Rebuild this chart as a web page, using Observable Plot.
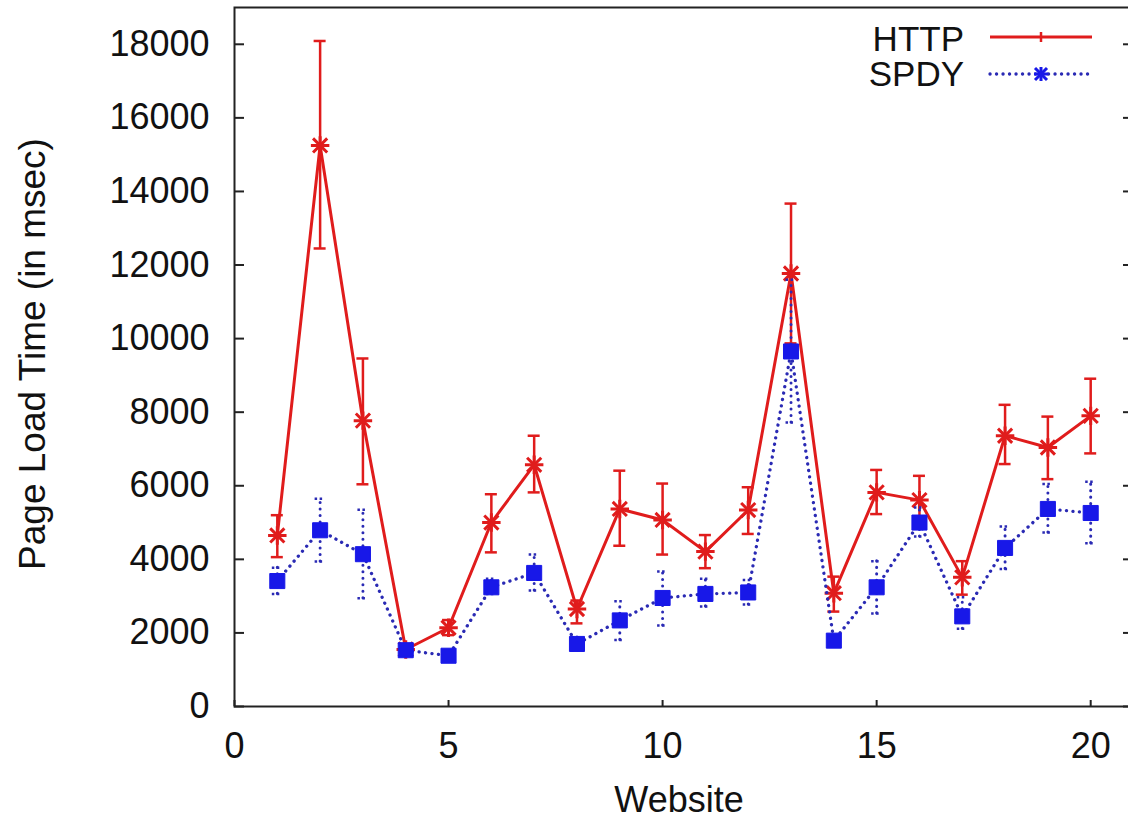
<!DOCTYPE html>
<html>
<head>
<meta charset="utf-8">
<script src="https://cdn.jsdelivr.net/npm/d3@7"></script>
<script src="https://cdn.jsdelivr.net/npm/@observablehq/plot@0.6"></script>
<style>
  body { margin: 0; background: #fff; }
  #wrap { position: relative; width: 1128px; height: 816px; overflow: hidden; }
  #legend { position: absolute; left: 0; top: 0; pointer-events: none; }
</style>
</head>
<body>
<div id="wrap"></div>
<script>
// ---- data ----
const websites = [1, 2, 3, 4, 5, 6, 7, 8, 9, 10, 11, 12, 13, 14, 15, 16, 17, 18, 19, 20];
const httpMean = [4650, 15250, 7770, 1550, 2140, 5000, 6570, 2650, 5370, 5070, 4210, 5340, 11770, 3080, 5820, 5610, 3510, 7360, 7040, 7900];
const httpLow  = [4060, 12450, 6040, 1450, 1940, 4190, 5820, 2260, 4370, 4130, 3760, 4690, 9870, 2580, 5230, 4950, 3040, 6590, 6180, 6880];
const httpHigh = [5200, 18090, 9460, 1650, 2350, 5770, 7360, 2880, 6410, 6060, 4660, 5960, 13670, 3530, 6430, 6270, 3950, 8200, 7880, 8910];
const spdyMean = [3410, 4790, 4140, 1530, 1380, 3240, 3630, 1700, 2340, 2950, 3060, 3100, 9650, 1790, 3240, 5000, 2450, 4310, 5370, 5260];
const spdyLow  = [3060, 3940, 2940, 1470, 1330, 3060, 3150, 1520, 1810, 2200, 2720, 2770, 7720, 1650, 2530, 4620, 2110, 3740, 4730, 4440];
const spdyHigh = [3770, 5650, 5350, 1590, 1430, 3470, 4130, 1880, 2860, 3670, 3470, 3440, 11600, 1930, 3950, 5410, 2970, 4890, 6050, 6110];
const seriesNames = ["HTTP", "SPDY"];
const xTicks = [0, 5, 10, 15, 20];
const yTicks = [0, 2000, 4000, 6000, 8000, 10000, 12000, 14000, 16000, 18000];
const xLabel = "Website";
const yLabel = "Page Load Time (in msec)";

const http = websites.map((w, i) => ({x: w, y: httpMean[i], lo: httpLow[i], hi: httpHigh[i]}));
const spdy = websites.map((w, i) => ({x: w, y: spdyMean[i], lo: spdyLow[i], hi: spdyHigh[i]}));

const RED = "#e01c1c";
const BLUE = "#1818e8";
const NAVY = "#2a2ab4";
const AX = "#222";
const FONT = "'Liberation Sans', Arial, Helvetica, sans-serif";
const DOT = {strokeDasharray: "0.1,6.4", strokeLinecap: "round"};

const plot = Plot.plot({
  width: 1128,
  height: 816,
  marginLeft: 234,
  marginRight: -5,
  marginTop: 7,
  marginBottom: 110,
  x: {domain: [0, 21]},
  y: {domain: [0, 19000]},
  style: {fontFamily: FONT, fontSize: "36px", color: "#111", background: "#fff", overflow: "hidden"},
  marks: [
    // inward ticks (gnuplot style)
    Plot.ruleY(yTicks, {y: d => d, x1: 0, x2: 0, insetRight: -10, stroke: AX, strokeWidth: 2}),
    Plot.ruleY(yTicks, {y: d => d, x1: 21, x2: 21, insetLeft: -10, stroke: AX, strokeWidth: 2}),
    Plot.ruleX(xTicks, {x: d => d, y1: 0, y2: 0, insetBottom: 6, stroke: AX, strokeWidth: 2}),
    Plot.axisY({ticks: yTicks, tickSize: 0, tickPadding: 25, tickFormat: d => String(d), label: null}),
    Plot.axisX({ticks: xTicks, tickSize: 0, tickPadding: 26, tickFormat: d => String(d), label: null}),
    Plot.text([xLabel], {text: d => d, frameAnchor: "bottom", textAnchor: "middle", lineAnchor: "bottom", dy: 105, dx: -5, fontSize: 36}),
    Plot.text([yLabel], {text: d => d, frameAnchor: "left", textAnchor: "middle", rotate: -90, lineAnchor: "top", dx: -216, dy: -3, fontSize: 37}),

    // HTTP series
    Plot.ruleX(http, {x: "x", y1: "lo", y2: "hi", stroke: RED, strokeWidth: 2.5}),
    Plot.ruleY(http, {y: "hi", x1: "x", x2: "x", insetLeft: -6, insetRight: -6, stroke: RED, strokeWidth: 2.5}),
    Plot.ruleY(http, {y: "lo", x1: "x", x2: "x", insetLeft: -6, insetRight: -6, stroke: RED, strokeWidth: 2.5}),
    Plot.line(http, {x: "x", y: "y", stroke: RED, strokeWidth: 3}),
    Plot.dot(http, {x: "x", y: "y", symbol: "times", r: 6.5, stroke: RED, strokeWidth: 3}),
    Plot.dot(http, {x: "x", y: "y", symbol: "plus", r: 6, stroke: RED, strokeWidth: 3}),

    // SPDY series
    Plot.ruleX(spdy, {x: "x", y1: "lo", y2: "hi", stroke: NAVY, strokeWidth: 3, ...DOT}),
    Plot.ruleY(spdy, {y: "hi", x1: "x", x2: "x", insetLeft: -5, insetRight: -5, stroke: NAVY, strokeWidth: 2.5, strokeDasharray: "2.5,2.5"}),
    Plot.ruleY(spdy, {y: "lo", x1: "x", x2: "x", insetLeft: -5, insetRight: -5, stroke: NAVY, strokeWidth: 2.5, strokeDasharray: "2.5,2.5"}),
    Plot.line(spdy, {x: "x", y: "y", stroke: NAVY, strokeWidth: 3.3, ...DOT}),
    Plot.dot(spdy, {x: "x", y: "y", symbol: "square", r: 8.5, fill: BLUE, stroke: BLUE, strokeWidth: 1}),

    Plot.frame({stroke: AX, strokeWidth: 2})
  ]
});

const wrap = document.getElementById("wrap");
wrap.appendChild(plot);

// legend (top right, gnuplot style)
const ns = "http://www.w3.org/2000/svg";
const leg = document.createElementNS(ns, "svg");
leg.setAttribute("id", "legend");
leg.setAttribute("width", 1128);
leg.setAttribute("height", 120);
leg.innerHTML = `
  <g font-family="${FONT.replace(/"/g, "'")}" font-size="35" fill="#111" text-anchor="end">
    <text x="964" y="51">${seriesNames[0]}</text>
    <text x="964" y="86">${seriesNames[1]}</text>
  </g>
  <line x1="990" y1="37" x2="1092" y2="37" stroke="${RED}" stroke-width="3"/>
  <line x1="1041" y1="32" x2="1041" y2="42" stroke="${RED}" stroke-width="2.5"/>
  <line x1="990" y1="74" x2="1088" y2="74" stroke="${NAVY}" stroke-width="3.3" stroke-dasharray="0.1,6.4" stroke-linecap="round"/>
  <g stroke="${BLUE}" stroke-width="3">
    <line x1="1035" y1="68" x2="1047" y2="80"/>
    <line x1="1035" y1="80" x2="1047" y2="68"/>
    <line x1="1041" y1="67" x2="1041" y2="81"/>
    <line x1="1034" y1="74" x2="1048" y2="74"/>
  </g>`;
wrap.appendChild(leg);
</script>
</body>
</html>
